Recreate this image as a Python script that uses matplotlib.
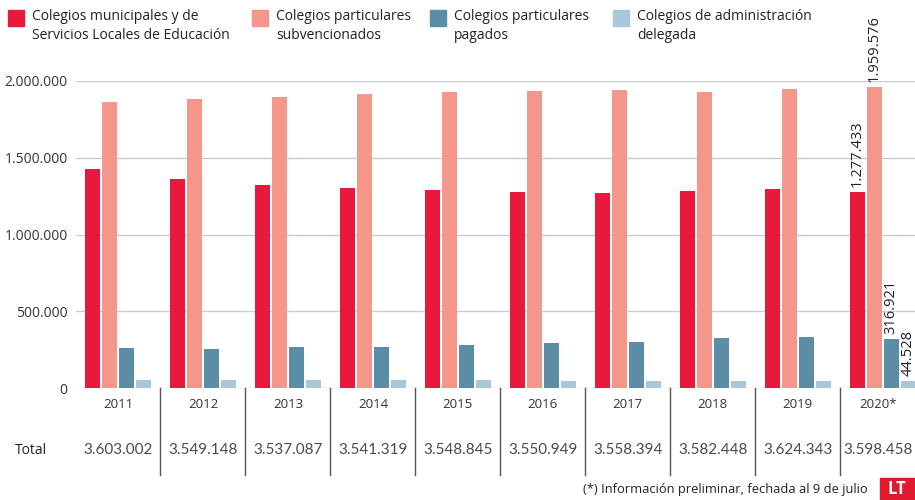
import matplotlib.pyplot as plt
import matplotlib.transforms as mtransforms
from matplotlib.patches import Rectangle

years = ["2011", "2012", "2013", "2014", "2015", "2016", "2017", "2018", "2019", "2020*"]
municipales = [1427000, 1360000, 1325000, 1305000, 1290000, 1275000, 1272000, 1285000, 1295000, 1277433]
subvencionados = [1863000, 1882000, 1897000, 1916000, 1930000, 1938000, 1940000, 1926000, 1950000, 1959576]
pagados = [261000, 256000, 265000, 270000, 279000, 290000, 300000, 325000, 334000, 316921]
delegada = [52000, 51000, 50000, 50000, 49000, 48000, 46000, 46000, 45000, 44528]
totals = ["3.603.002", "3.549.148", "3.537.087", "3.541.319", "3.548.845",
          "3.550.949", "3.558.394", "3.582.448", "3.624.343", "3.598.458"]

series = [municipales, subvencionados, pagados, delegada]
labels = ["Colegios municipales y de\nServicios Locales de Educación",
          "Colegios particulares\nsubvencionados",
          "Colegios particulares\npagados",
          "Colegios de administración\ndelegada"]
colors = ["#E8193C", "#F4978A", "#5B8DA6", "#A8C7D8"]

plt.rcParams['font.family'] = ['Open Sans', 'DejaVu Sans']

def fmt(v):
    return f"{v:,}".replace(",", ".")

fig = plt.figure(figsize=(9.15, 5.0), dpi=100)
ax = fig.add_axes([76 / 915, 112 / 500, 839 / 915, 307 / 500])

x = list(range(len(years)))
offsets = [-0.3, -0.1, 0.1, 0.3]
for vals, off, col in zip(series, offsets, colors):
    ax.bar([i + off for i in x], vals, width=0.178, color=col, zorder=3)

x_left, x_right = -0.494, 9.38
ax.set_xlim(x_left, x_right)
ax.set_ylim(0, 2000000)
yt = [0, 500000, 1000000, 1500000, 2000000]
ax.set_yticks(yt)
ax.set_yticklabels([fmt(v) for v in yt], fontsize=10, color="#333333")
ax.tick_params(axis="y", length=0, pad=6)
ax.set_xticks([])
for s in ax.spines.values():
    s.set_visible(False)
for v in yt:
    ax.axhline(v, color="#cccccc", lw=1, zorder=1)

# labels on the last group
last = len(years) - 1
for vals, off in zip(series, offsets):
    ax.text(last + off, vals[last] + 35000, fmt(vals[last]), rotation=90,
            ha="center", va="bottom", fontsize=10.5, color="#222222")

# separators, years and totals below the axis (centred in each cell)
trans = mtransforms.blended_transform_factory(ax.transData, ax.transAxes)
seps = [i + 0.5 for i in range(len(years) - 1)]
for s in seps:
    ax.plot([s, s], [0, -87 / 307], transform=trans,
            color="#555555", lw=1, clip_on=False)
edges = [x_left] + seps + [x_right]
for i, (yr, tot) in enumerate(zip(years, totals)):
    cx = (edges[i] + edges[i + 1]) / 2
    ax.text(cx, -17 / 307, yr, transform=trans, ha="center", va="center",
            fontsize=9.5, color="#333333")
    ax.text(cx, -62 / 307, tot, transform=trans, ha="center", va="center",
            fontsize=11, color="#4a4a4a", family=["Lato", "DejaVu Sans"])
fig.text(15 / 915, 1 - 450 / 500, "Total", ha="left", va="center",
         fontsize=10, color="#222222")

# legend
leg_x = [8, 252, 430, 613]
for lx, lab, col in zip(leg_x, labels, colors):
    fig.patches.append(Rectangle((lx / 915, 1 - 26 / 500), 16 / 915, 16 / 500,
                                 transform=fig.transFigure, color=col))
    fig.text((lx + 24) / 915, 1 - 9 / 500, lab, ha="left", va="top",
             fontsize=10, color="#222222", linespacing=1.35)

# footnote and logo
fig.text(868 / 915, 1 - 489 / 500, "(*) Información preliminar, fechada al 9 de julio",
         ha="right", va="center", fontsize=9.3, color="#222222")
fig.patches.append(Rectangle((880 / 915, 0), 35 / 915, 22 / 500,
                             transform=fig.transFigure, color="#E0192E"))
fig.text(897 / 915, 11 / 500, "LT", ha="center", va="center", fontsize=12,
         color="white", fontweight="bold")

fig.savefig("out.png", dpi=100)
